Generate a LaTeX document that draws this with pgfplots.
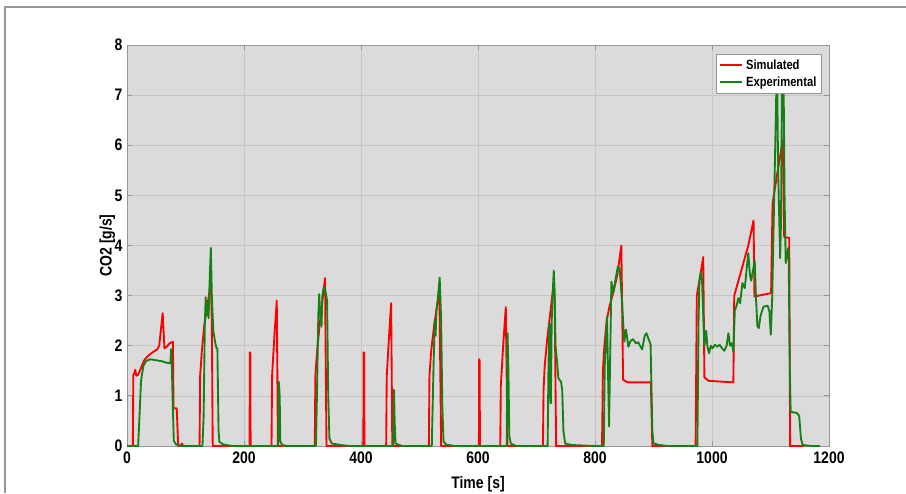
\documentclass[border=0pt]{standalone}
\usepackage{fontspec}
\setmainfont{Liberation Sans}[FakeStretch=0.84]
\usepackage{pgfplots}
\pgfplotsset{compat=1.18}

\definecolor{simred}{RGB}{255,0,0}
\definecolor{expgreen}{RGB}{22,128,22}
\definecolor{bggray}{RGB}{219,219,219}
\definecolor{gridgray}{RGB}{198,198,198}
\definecolor{boxgray}{RGB}{150,150,150}

\begin{document}
\begin{tikzpicture}
\path[use as bounding box] (0,0) rectangle (679.5pt,369.75pt);
\draw[boxgray, line width=0.9pt] (3.75pt,0) -- (3.75pt,364.5pt) -- (679.5pt,364.5pt);

\begin{axis}[
at={(95.25pt,35.25pt)}, anchor=south west,
scale only axis, width=526.5pt, height=300.75pt,
xmin=0, xmax=1200, ymin=0, ymax=8,
xtick={0,200,...,1200}, ytick={0,1,...,8},
tick align=inside, tick pos=both,
major tick length=4pt,
axis line style={boxgray},
tick style={boxgray, line width=0.6pt},
axis background/.style={fill=bggray},
grid=major,
major grid style={gridgray, line width=0.5pt},
/pgf/number format/assume math mode=true,
/pgf/number format/1000 sep={},
ticklabel style={font=\fontsize{12.5}{14}\selectfont\bfseries},
xticklabel style={yshift=-1pt},
xlabel={Time [s]}, ylabel={CO2 [g/s]},
every axis x label/.style={at={(axis description cs:0.5,-0.095)}, anchor=center,
  font=\fontsize{12.5}{14}\selectfont\bfseries},
every axis y label/.style={at={(axis description cs:-0.028,0.5)}, anchor=center, rotate=90,
  font=\fontsize{12.5}{14}\selectfont\bfseries},
legend cell align=left,
legend style={at={(axis description cs:0.99,0.978)}, anchor=north east,
  font=\fontsize{10}{11}\selectfont\bfseries, draw=boxgray, fill=white,
  inner sep=2pt, row sep=0pt},
legend image code/.code={\draw[#1] (0pt,0pt) -- (17pt,0pt);},
every axis plot/.append style={line join=round},
]

\addplot[simred, line width=1.4pt] coordinates {
(0,0) (10,0) (10.8,1.42) (12.5,1.45) (14,1.52) (16,1.4) (19,1.42) (22,1.5)
(26,1.62) (30,1.72) (36,1.8) (44,1.87) (52,1.93) (55,2.0) (61,2.65) (64,1.95)
(68,1.98) (73,2.05) (78.5,2.08) (79.5,0.75) (85,0.75) (87.5,0) (92,0) (94,0.05) (96,0)
(124,0) (125,1.4) (128,1.9) (132,2.4) (136,2.7) (140,3.0) (143.5,3.22) (145,2.5) (146.5,0)
(209.5,0) (210,1.87) (210.8,1.85) (211.3,0)
(247,0) (248,1.4) (252,2.2) (256,2.9) (258,0)
(321,0) (322,1.4) (325,1.9) (330,2.5) (335,3.0) (338.5,3.35) (341,0)
(404,0) (404.5,1.87) (405.3,1.85) (405.8,0)
(443,0) (444,1.4) (448,2.2) (451.5,2.85) (453.5,0)
(516,0) (517,1.4) (520,1.9) (525,2.4) (530,2.8) (534,3.1) (537,0)
(601.5,0) (602,1.73) (602.8,1.7) (603.3,0)
(638,0) (639,1.2) (643,2.0) (647.5,2.77) (650.5,0)
(711,0) (712,1.1) (714,1.6) (718,2.1) (723,2.6) (728,3.1) (731,3.0) (733.5,0)
(812,0) (813.5,1.5) (816,2.0) (820,2.5) (825,2.8) (832,3.1) (838,3.4) (845,4.0)
(848,1.32) (856,1.27) (895.5,1.27) (898,0)
(972,0) (974,3.0) (980,3.4) (985,3.77) (987,1.37) (994,1.3) (1036.5,1.27) (1038,3.0)
(1050,3.5) (1062,4.0) (1071,4.5) (1072.6,2.98) (1080,3.0) (1101,3.05) (1103.5,4.84)
(1111,5.4) (1121,6.1) (1123.4,4.17) (1132,4.15) (1133.5,0) (1157,0)
};
\addlegendentry{Simulated}

\addplot[expgreen, line width=1.4pt] coordinates {
(0,0) (19,0) (21,0.5) (24,1.3) (28,1.6) (33,1.7) (40,1.73) (50,1.71) (60,1.69)
(68,1.66) (74,1.65) (75.5,1.93) (76.5,1.65) (78.3,0.8) (80,0.1) (84,0.03) (95,0)
(129,0) (131,0.6) (133,2.4) (134.5,2.97) (136,2.6) (138,2.85) (139.5,2.55) (141,3.2)
(143.3,3.95) (145,3.0) (147.5,2.3) (151,2.05) (153,1.95) (154.5,1.95) (156.5,0.3)
(158,0.08) (165,0.03) (180,0)
(258.5,0) (259.5,1.28) (261,1.0) (262,0.1) (265,0.02) (275,0)
(323,0) (325,1.2) (327,2.6) (328.5,3.03) (330,2.7) (332.5,2.38) (334,3.0) (336.5,3.18)
(339,3.1) (342,2.9) (344,1.0) (346,0.15) (350,0.05) (365,0.02) (380,0)
(455,0) (456.5,1.12) (457.5,0.5) (459,0.05) (470,0)
(521,0) (524,1.6) (526,2.5) (527.5,2.2) (529,2.7) (531,2.9) (534.5,3.36) (537,2.5)
(539,0.8) (541,0.1) (545,0.03) (560,0)
(649,0) (650.5,2.25) (652,1.5) (653.5,0.2) (656,0.05) (665,0)
(719,0) (720.5,1.6) (722,2.45) (723.5,1.0) (724.5,0.85) (726,2.5) (727.5,3.0) (729.5,3.5)
(731,3.1) (732.5,2.0) (735,1.7) (737.5,1.35) (742,1.28) (744,1.1) (746,0.3) (749,0.05)
(760,0.02) (800,0)
(815,0) (816.6,1.58) (820.5,2.58) (824,0.39) (828,3.28) (831,3.05) (834,3.25) (839,3.58)
(842,3.55) (846,2.91) (850,2.08) (853,2.32) (857,1.98) (861,2.1) (865,2.13) (870,2.05)
(874,2.07) (877,2.0) (880.6,1.93) (885,2.2) (888,2.25) (891,2.15) (895,2.03) (898,0.3)
(900,0.05) (910,0.02) (925,0)
(975,0) (977,2.5) (978.5,3.3) (981,3.48) (983,3.3) (985,2.6) (987,2.0) (990,2.3)
(992,2.0) (995,1.85) (998,2.0) (1001,1.95) (1005,2.02) (1009,1.98) (1013,2.02) (1017,1.95)
(1021,1.9) (1025,2.0) (1028,2.25) (1031,2.0) (1034,2.05) (1036.5,1.88) (1039,2.7)
(1042,2.8) (1045,2.95) (1048,2.85) (1052,3.25) (1056,3.15) (1059,3.5) (1062,3.85)
(1065,3.4) (1067,3.3) (1070,3.5) (1073,3.7) (1075,3.0) (1077.5,2.4) (1080,2.35)
(1083,2.6) (1088,2.78) (1095,2.8) (1098,2.7) (1100.5,2.22) (1103,3.0) (1106,4.8)
(1109,6.5) (1111,7.8) (1113,5.5) (1116.5,3.75) (1118,4.5) (1120,7.8) (1122,7.8)
(1124,5.0) (1126,3.65) (1128,3.8) (1130,3.95) (1131,3.8) (1133,1.5) (1134.5,0.68)
(1145,0.66) (1149,0.6) (1152,0.15) (1155,0.02) (1170,0) (1185,0)
};
\addlegendentry{Experimental}

\end{axis}
\end{tikzpicture}
\end{document}
